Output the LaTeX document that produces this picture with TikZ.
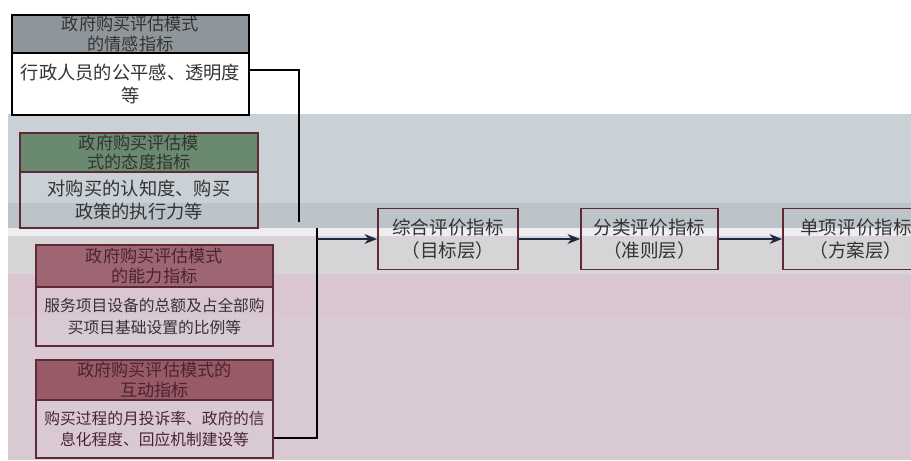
\documentclass[tikz,border=0pt]{standalone}
\usepackage{fontspec}
\newfontfamily\cjk{Noto Sans CJK SC}
\usetikzlibrary{arrows.meta}
\definecolor{bandA}{HTML}{C9D0D6}
\definecolor{bandB}{HTML}{BCC3C9}
\definecolor{bandC}{HTML}{EFEDF0}
\definecolor{bandD}{HTML}{D7D4D8}
\definecolor{bandE}{HTML}{D9C6D0}
\definecolor{bandF}{HTML}{D9C9D3}
\definecolor{hgray}{HTML}{8F969B}
\definecolor{hgreen}{HTML}{6A8A70}
\definecolor{hred}{HTML}{9E6672}
\definecolor{hredd}{HTML}{985A66}
\definecolor{maroon}{HTML}{5E2A36}
\definecolor{navy}{HTML}{1E2840}
\definecolor{txt}{HTML}{333333}
\definecolor{txtr}{HTML}{4A2530}
\begin{document}
\begin{tikzpicture}[x=0.025cm,y=-0.025cm,
  boxbase/.style={draw, line width=1.2pt, inner sep=0pt, align=center, text=txt},
  hdrA/.style={boxbase, font=\cjk\fontsize{12.2}{13.8}\selectfont},
  bodyA/.style={boxbase, font=\cjk\fontsize{13}{16}\selectfont},
  bodyB/.style={boxbase, font=\cjk\fontsize{11.2}{15.5}\selectfont},
  level/.style={boxbase, draw=maroon, minimum width=3.5cm, minimum height=1.525cm, font=\cjk\fontsize{13.2}{16}\selectfont},
  conn/.style={draw=black, line width=1.1pt},
  arr/.style={draw=navy, line width=1.1pt, -{Stealth[length=9pt,width=7pt]}}
]
\useasboundingbox (0,0) rectangle (911,460);
% background bands
\fill[white] (0,0) rectangle (911,460);
\fill[bandA] (8,114) rectangle (911,203);
\fill[bandB] (8,203) rectangle (911,228);
\fill[bandC] (8,228) rectangle (911,236);
\fill[bandD] (8,236) rectangle (911,274);
\fill[bandE] (8,274) rectangle (911,315);
\fill[bandF] (8,315) rectangle (911,460);

% emotional indicator
\node[hdrA, fill=hgray, minimum width=5.925cm, minimum height=0.95cm] (h1) at (130.5,34) {政府购买评估模式\\的情感指标};
\node[bodyA, fill=white, minimum width=5.925cm, minimum height=1.55cm] (b1) at (130.5,84) {行政人员的公平感、透明度\\等};

% attitude indicator
\node[hdrA, draw=maroon, fill=hgreen, text=black!80, minimum width=5.95cm, minimum height=0.975cm] (h2) at (139,152.5) {政府购买评估模\\式的态度指标};
\node[bodyA, draw=maroon, minimum width=5.95cm, minimum height=1.4cm] (b2) at (139,200) {对购买的认知度、购买\\政策的执行力等};

% ability indicator
\node[hdrA, draw=maroon, fill=hred, text=txtr, minimum width=5.925cm, minimum height=1.05cm] (h3) at (154.5,266) {政府购买评估模式\\的能力指标};
\node[bodyB, draw=maroon, minimum width=5.925cm, minimum height=1.475cm] (b3) at (154.5,316.5) {服务项目设备的总额及占全部购\\买项目基础设置的比例等};

% interaction indicator
\node[hdrA, draw=maroon, fill=hredd, text=txtr, minimum width=5.925cm, minimum height=1.0cm] (h4) at (154.5,380) {政府购买评估模式的\\互动指标};
\node[bodyB, draw=maroon, text=txtr, minimum width=5.925cm, minimum height=1.45cm] (b4) at (154.5,429) {购买过程的月投诉率、政府的信\\息化程度、回应机制建设等};

% level boxes
\node[level] (t1) at (448,239) {综合评价指标\\（目标层）};
\node[level, minimum width=3.425cm] (t2) at (649.5,239) {分类评价指标\\（准则层）};
\node[level, minimum width=3.65cm] (t3) at (856,239) {单项评价指标\\（方案层）};

% connectors
\coordinate (j1) at (299,222);
\coordinate (busTop) at (317,228);
\coordinate (busArr) at (317,239);
\draw[conn] ([yshift=10pt]b1.east) -| (j1);
\draw[conn] ([yshift=-6.4pt]b4.east) -| (busTop);
\draw[arr] (busArr) -- (t1.west);
\draw[arr] (t1.east) -- (t2.west);
\draw[arr] (t2.east) -- (t3.west);
\end{tikzpicture}
\end{document}
